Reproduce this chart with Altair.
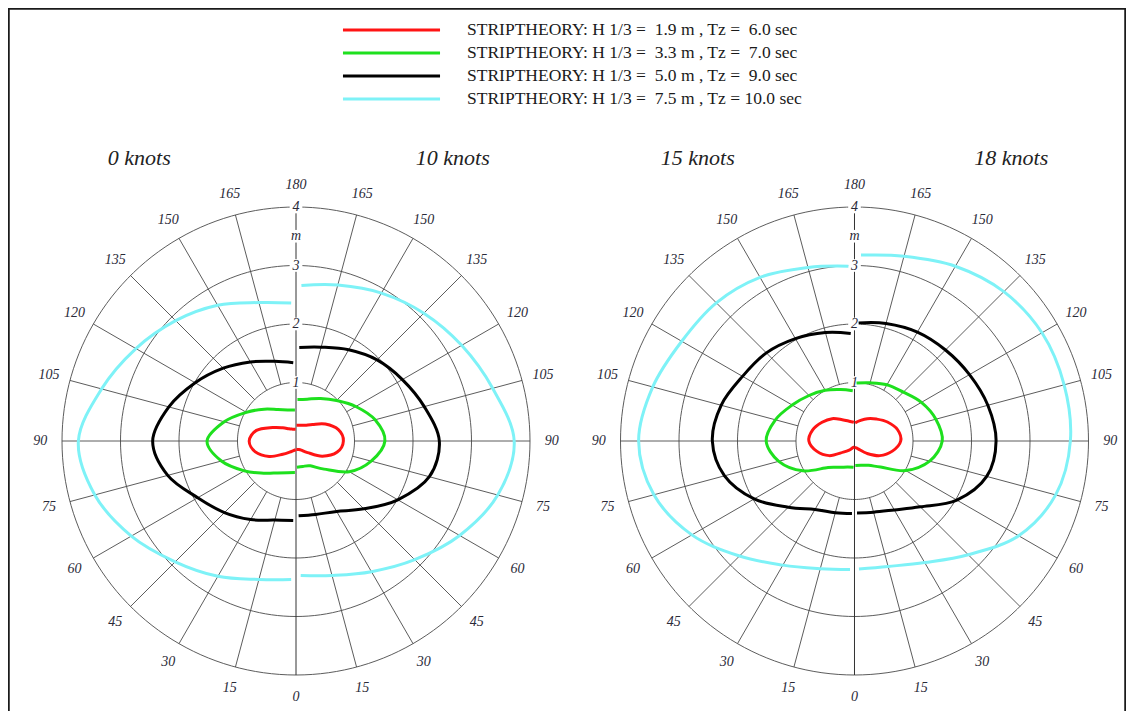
import altair as alt
import numpy as np
import pandas as pd

# ---------------- data ----------------
ANGLES = [2, 15, 30, 45, 60, 75, 90, 105, 120, 135, 150, 165, 178]
SPEEDS = ["0 knots", "10 knots", "15 knots", "18 knots"]
NB = "\u00a0"
SERIES = [
    f"STRIPTHEORY: H 1/3 = {NB}1.9 m , Tz = {NB}6.0 sec",
    f"STRIPTHEORY: H 1/3 = {NB}3.3 m , Tz = {NB}7.0 sec",
    f"STRIPTHEORY: H 1/3 = {NB}5.0 m , Tz = {NB}9.0 sec",
    f"STRIPTHEORY: H 1/3 = {NB}7.5 m , Tz = 10.0 sec",
]
COLORS = ["#ff1414", "#1ee01e", "#000000", "#7ef2f7"]

KN0_S1 = [0.15, 0.17, 0.22, 0.32, 0.53, 0.72, 0.80, 0.70, 0.46, 0.32, 0.24, 0.21, 0.20]
KN0_S2 = [0.54, 0.56, 0.63, 0.78, 1.02, 1.32, 1.52, 1.27, 0.98, 0.77, 0.62, 0.55, 0.53]
KN0_S3 = [1.36, 1.40, 1.55, 1.73, 1.94, 2.27, 2.45, 2.25, 1.99, 1.76, 1.56, 1.41, 1.34]
KN0_S4 = [2.37, 2.45, 2.67, 2.92, 3.25, 3.56, 3.72, 3.44, 3.16, 2.91, 2.68, 2.45, 2.36]

KN10_S1 = [0.14, 0.15, 0.18, 0.28, 0.52, 0.73, 0.81, 0.75, 0.58, 0.40, 0.31, 0.28, 0.27]
KN10_S2 = [0.45, 0.45, 0.49, 0.68, 1.05, 1.33, 1.52, 1.40, 1.18, 0.98, 0.84, 0.74, 0.71]
KN10_S3 = [1.28, 1.30, 1.39, 1.64, 2.01, 2.36, 2.45, 2.27, 2.10, 1.96, 1.80, 1.66, 1.60]
KN10_S4 = [2.30, 2.38, 2.58, 2.87, 3.23, 3.57, 3.73, 3.48, 3.27, 3.09, 2.92, 2.76, 2.66]

KN15_S1 = [0.10, 0.12, 0.18, 0.27, 0.50, 0.67, 0.78, 0.74, 0.64, 0.54, 0.42, 0.35, 0.32]
KN15_S2 = [0.45, 0.46, 0.52, 0.64, 1.02, 1.34, 1.51, 1.40, 1.23, 1.10, 1.00, 0.91, 0.86]
KN15_S3 = [1.24, 1.27, 1.35, 1.60, 1.98, 2.30, 2.43, 2.36, 2.21, 2.13, 2.02, 1.92, 1.84]
KN15_S4 = [2.20, 2.26, 2.45, 2.78, 3.21, 3.55, 3.69, 3.57, 3.41, 3.34, 3.23, 3.07, 2.99]

KN18_S1 = [0.11, 0.12, 0.17, 0.30, 0.50, 0.67, 0.79, 0.76, 0.65, 0.53, 0.44, 0.36, 0.31]
KN18_S2 = [0.42, 0.43, 0.48, 0.63, 1.01, 1.33, 1.50, 1.44, 1.32, 1.18, 1.11, 1.03, 0.99]
KN18_S3 = [1.23, 1.26, 1.36, 1.59, 2.02, 2.34, 2.42, 2.36, 2.27, 2.20, 2.15, 2.08, 2.02]
KN18_S4 = [2.19, 2.22, 2.40, 2.75, 3.24, 3.56, 3.69, 3.71, 3.70, 3.61, 3.45, 3.27, 3.18]

VALUES = {
    "0 knots": [KN0_S1, KN0_S2, KN0_S3, KN0_S4],
    "10 knots": [KN10_S1, KN10_S2, KN10_S3, KN10_S4],
    "15 knots": [KN15_S1, KN15_S2, KN15_S3, KN15_S4],
    "18 knots": [KN18_S1, KN18_S2, KN18_S3, KN18_S4],
}

RINGS = [1, 2, 3, 4]
RING_LABELS = ["1", "2", "3", "4"]
SPOKE_ANGLES = [15, 30, 45, 60, 75, 90, 105, 120, 135, 150, 165]
LABEL_ANGLES = [0, 15, 30, 45, 60, 75, 90, 105, 120, 135, 150, 165, 180]
UNIT = "m"

# ---------------- layout ----------------
K = 58.5            # pixels per metre
W, H = 1118, 703
PANEL_CX = [0.0, 9.547]
XMIN = -288 / K
XMAX = XMIN + W / K
YMAX = 433 / K
YMIN = YMAX - H / K
PLACE = {"0 knots": (0, -1), "10 knots": (0, 1), "15 knots": (1, -1), "18 knots": (1, 1)}
R_LABEL = 4.37
TITLE_DX, TITLE_Y = 2.68, 4.83

XS = alt.Scale(domain=[XMIN, XMAX], nice=False, zero=False)
YS = alt.Scale(domain=[YMIN, YMAX], nice=False, zero=False)
SERIF = "Liberation Serif"
GRID = "#4a4a4a"
LABEL_COLOR = "#2a2a38"


def X(f="x"):
    return alt.X(f"{f}:Q", scale=XS, axis=None)


def Y(f="y"):
    return alt.Y(f"{f}:Q", scale=YS, axis=None)


# curves
rows = []
for sp in SPEEDS:
    p, side = PLACE[sp]
    for si, ser in enumerate(SERIES):
        for i, (a, v) in enumerate(zip(ANGLES, VALUES[sp][si])):
            rows.append(dict(key=f"{sp}|{si}", series=ser, angle=a, value=v, idx=i,
                             cx=PANEL_CX[p], side=side))
curves_df = pd.DataFrame(rows)

# rings
rows = []
for p, cx in enumerate(PANEL_CX):
    for r in RINGS:
        for i, a in enumerate(range(0, 362, 2)):
            rows.append(dict(key=f"{p}-{r}", r=r, a=a, idx=i, cx=cx))
rings_df = pd.DataFrame(rows)

# spokes
rows = []
for p, cx in enumerate(PANEL_CX):
    for side in (-1, 1):
        for a in SPOKE_ANGLES:
            rows.append(dict(cx=cx, side=side, a=a))
spokes_df = pd.DataFrame(rows)

axis_df = pd.DataFrame(dict(x=PANEL_CX, y=[-4] * 2, y2=[4] * 2))

# radial tick labels
rows = []
for cx in PANEL_CX:
    for r, lab in zip(RINGS, RING_LABELS):
        rows.append(dict(x=cx, y=r, t=lab))
    rows.append(dict(x=cx, y=3.5, t=UNIT))
rlab_df = pd.DataFrame(rows)

# angle labels
rows = []
for cx in PANEL_CX:
    for a in LABEL_ANGLES:
        sides = (0,) if a in (0, 180) else (-1, 1)
        for s in sides:
            rows.append(dict(cx=cx, side=s, a=a, t=str(a)))
alab_df = pd.DataFrame(rows)

titles_df = pd.DataFrame([
    dict(x=PANEL_CX[PLACE[sp][0]] + PLACE[sp][1] * TITLE_DX, y=TITLE_Y, t=sp) for sp in SPEEDS
])

leg_df = pd.DataFrame(dict(series=SERIES, row=list(range(len(SERIES)))))

color = alt.Color("series:N", scale=alt.Scale(domain=SERIES, range=COLORS), legend=None)

# ---------------- layers ----------------
frame_df = pd.DataFrame(dict(k=[0]))
frame_l = alt.Chart(frame_df).mark_rule(color="#1a1a1a", strokeWidth=2.5).encode(
    x=alt.value(0.5), y=alt.value(0), y2=alt.value(H))
frame_t = alt.Chart(frame_df).mark_rule(color="#1a1a1a", strokeWidth=2.5).encode(
    x=alt.value(0), x2=alt.value(W), y=alt.value(0.5))
frame_r = alt.Chart(frame_df).mark_rule(color="#1a1a1a", strokeWidth=2.5).encode(
    x=alt.value(W - 0.5), y=alt.value(0), y2=alt.value(H))

rings = alt.Chart(rings_df).transform_calculate(
    x="datum.cx + datum.r*sin(datum.a*PI/180)", y="-datum.r*cos(datum.a*PI/180)"
).mark_line(color=GRID, strokeWidth=0.9).encode(
    x=X(), y=Y(), detail="key:N", order="idx:Q")

spokes = alt.Chart(spokes_df).transform_calculate(
    x="datum.cx + datum.side*sin(datum.a*PI/180)",
    y="-cos(datum.a*PI/180)",
    x2="datum.cx + datum.side*4*sin(datum.a*PI/180)",
    y2="-4*cos(datum.a*PI/180)",
).mark_rule(color=GRID, strokeWidth=0.9).encode(x=X(), y=Y(), x2="x2:Q", y2="y2:Q")

vaxis = alt.Chart(axis_df).mark_rule(color="#333333", strokeWidth=1).encode(
    x=X(), y=Y(), y2="y2:Q")

knock = alt.Chart(rlab_df).mark_square(color="white", opacity=1, size=160, filled=True).encode(
    x=X(), y=Y())

rlabels = alt.Chart(rlab_df).mark_text(
    font=SERIF, fontStyle="italic", fontSize=14, color=LABEL_COLOR, baseline="middle"
).encode(x=X(), y=Y(), text="t:N")

curves = alt.Chart(curves_df).transform_calculate(
    x="datum.cx + datum.side*datum.value*sin(datum.angle*PI/180)",
    y="-datum.value*cos(datum.angle*PI/180)",
).mark_line(strokeWidth=3, interpolate="cardinal").encode(
    x=X(), y=Y(), color=color, detail="key:N", order="idx:Q")

alabels = alt.Chart(alab_df).transform_calculate(
    x=f"datum.cx + datum.side*{R_LABEL}*sin(datum.a*PI/180)",
    y=f"-{R_LABEL}*cos(datum.a*PI/180)",
).mark_text(font=SERIF, fontStyle="italic", fontSize=14, color=LABEL_COLOR,
            baseline="middle").encode(x=X(), y=Y(), text="t:N")

titles = alt.Chart(titles_df).mark_text(
    font=SERIF, fontStyle="italic", fontSize=22, color="#222222", baseline="middle"
).encode(x=X(), y=Y(), text="t:N")

leg_base = alt.Chart(leg_df).transform_calculate(
    y=f"{7.026} - datum.row*{23 / K}", x="0.803", x2="2.462", tx="2.923")
leg_lines = leg_base.mark_rule(strokeWidth=3).encode(x=X(), x2="x2:Q", y=Y(), color=color)
leg_text = leg_base.mark_text(font=SERIF, fontSize=17.5, color="#1a1a1a", align="left",
                              baseline="middle").encode(x=X("tx"), y=Y(), text="series:N")

chart = alt.layer(frame_l, frame_t, frame_r, rings, spokes, vaxis, knock, rlabels, curves,
                  alabels, titles, leg_lines, leg_text).properties(
    width=W, height=H, padding=0,
    autosize=alt.AutoSizeParams(type="none"),
).configure_view(stroke=None).configure(background="white")

chart.save("out.html", embed_options={"renderer": "svg", "actions": False})
